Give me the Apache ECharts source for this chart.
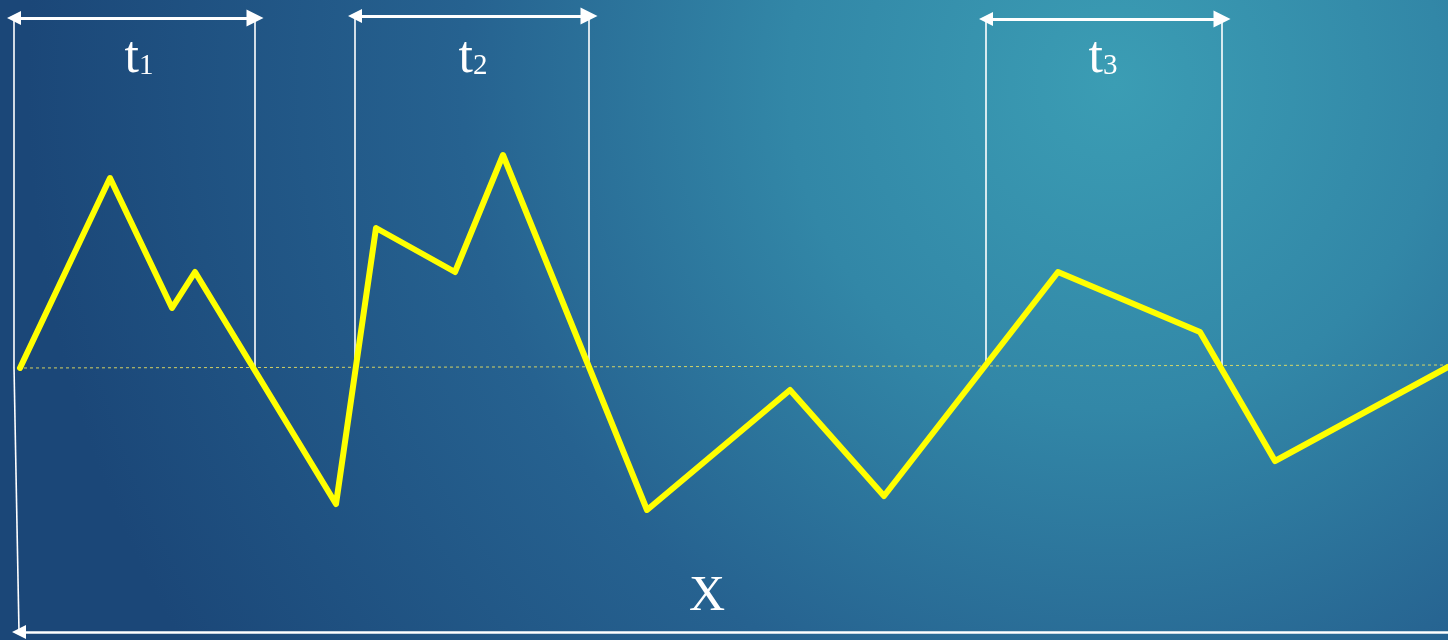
<!DOCTYPE html>
<html>
<head>
    <meta charset="UTF-8">
    <title>t1 t2 t3 / X</title>
    <script src="https://cdn.jsdelivr.net/npm/echarts/dist/echarts.min.js"></script>
    <style>
    html, body { margin: 0; padding: 0; }
    #chart { width: 1448px; height: 640px; }
  </style>
</head>
<body>
<div id="chart"></div>
<script>
    // signal: x position, height above the baseline
    var signalX = [20, 110, 172, 195, 336, 376, 455, 503, 647, 790, 884, 1058, 1200, 1275, 1448];
    var signalY = [-1, 189, 59, 95, -137, 139, 95, 212, -143, -23, -129, 95, 35, -94, 0];

    // the three windows (start, end), their top and their names
    var winStart = [14, 355, 986];
    var winEnd   = [255, 589, 1222];
    var winTop   = [349, 351, 348];
    var winNames = ['1', '2', '3'];
    var labelX   = [139, 473, 1103];
    var labelY   = 309;

    // total span X
    var spanStart = 19, spanEnd = 1448, spanY = -265;

    var chart = echarts.init(document.getElementById('chart'));

    var signal = signalX.map(function (x, i) { return [x, signalY[i]]; });

    var verticals = [];
    var arrows = [];
    for (var i = 0; i < winStart.length; i++) {
      verticals.push({ coords: [[winStart[i], winTop[i]], [winStart[i], 0]] });
      verticals.push({ coords: [[winEnd[i], winTop[i] - 1], [winEnd[i], 0]] });
      arrows.push({ coords: [[winStart[i], winTop[i]], [winEnd[i], winTop[i]]] });
    }
    // slanted left edge down to the X arrow
    verticals.push({ coords: [[14, 0], [spanStart, spanY]] });

    var labels = winNames.map(function (n, i) {
      return { value: [labelX[i], labelY], name: n };
    });

    var option = {
      backgroundColor: {
        type: 'radial', x: 0.77, y: 0.13, r: 1.7,
        colorStops: [
          { offset: 0, color: '#3b9db4' },
          { offset: 0.3, color: '#3287a7' },
          { offset: 0.6, color: '#266290' },
          { offset: 1, color: '#1b4778' }
        ]
      },
      animation: false,
      grid: { left: 0, right: 0, top: 0, bottom: 0 },
      xAxis: { type: 'value', min: 0, max: 1448, show: false },
      yAxis: { type: 'value', min: -273, max: 367, show: false },
      series: [
        {
          // dotted baseline
          type: 'lines',
          coordinateSystem: 'cartesian2d',
          lineStyle: { color: '#e8e060', width: 1, type: [3, 3], opacity: 0.9 },
          data: [{ coords: [[18, -1], [1448, 2]] }],
          z: 1
        },
        {
          type: 'lines',
          coordinateSystem: 'cartesian2d',
          lineStyle: { color: '#ffffff', width: 1.6, opacity: 1 },
          data: verticals,
          z: 2
        },
        {
          type: 'lines',
          coordinateSystem: 'cartesian2d',
          symbol: ['triangle', 'triangle'],
          symbolSize: [14, 17],
          lineStyle: { color: '#ffffff', width: 3, opacity: 1 },
          data: arrows,
          z: 3
        },
        {
          // X span arrow at the bottom
          type: 'lines',
          coordinateSystem: 'cartesian2d',
          symbol: ['triangle', 'none'],
          symbolSize: [14, 17],
          lineStyle: { color: '#ffffff', width: 2.5, opacity: 1 },
          data: [{ coords: [[spanStart, spanY], [spanEnd, spanY]] }],
          z: 3
        },
        {
          type: 'line',
          data: signal,
          showSymbol: false,
          lineStyle: { color: '#ffff00', width: 6, join: 'round', cap: 'round' },
          itemStyle: { color: '#ffff00' },
          z: 5
        },
        {
          type: 'scatter',
          symbolSize: 0,
          itemStyle: { opacity: 1 },
          data: labels,
          label: {
            show: true,
            position: 'inside',
            textBorderWidth: 0,
            formatter: function (p) { return '{t|t}{n|' + p.name + '}'; },
            rich: {
              t: { fontFamily: 'Liberation Serif', fontSize: 52, color: '#ffffff', verticalAlign: 'bottom', textBorderWidth: 0 },
              n: { fontFamily: 'Liberation Serif', fontSize: 29, color: '#ffffff', verticalAlign: 'bottom', textBorderWidth: 0, padding: [0, 0, 3, 0] }
            }
          },
          z: 6
        },
        {
          type: 'scatter',
          symbolSize: 0,
          itemStyle: { opacity: 1 },
          data: [{ value: [707, -230], name: 'X' }],
          label: {
            show: true,
            position: 'inside',
            formatter: '{b}',
            fontFamily: 'Liberation Serif',
            fontSize: 50,
            color: '#ffffff',
            textBorderWidth: 0
          },
          z: 6
        }
      ]
    };
    chart.setOption(option);
  </script>
</body>
</html>
